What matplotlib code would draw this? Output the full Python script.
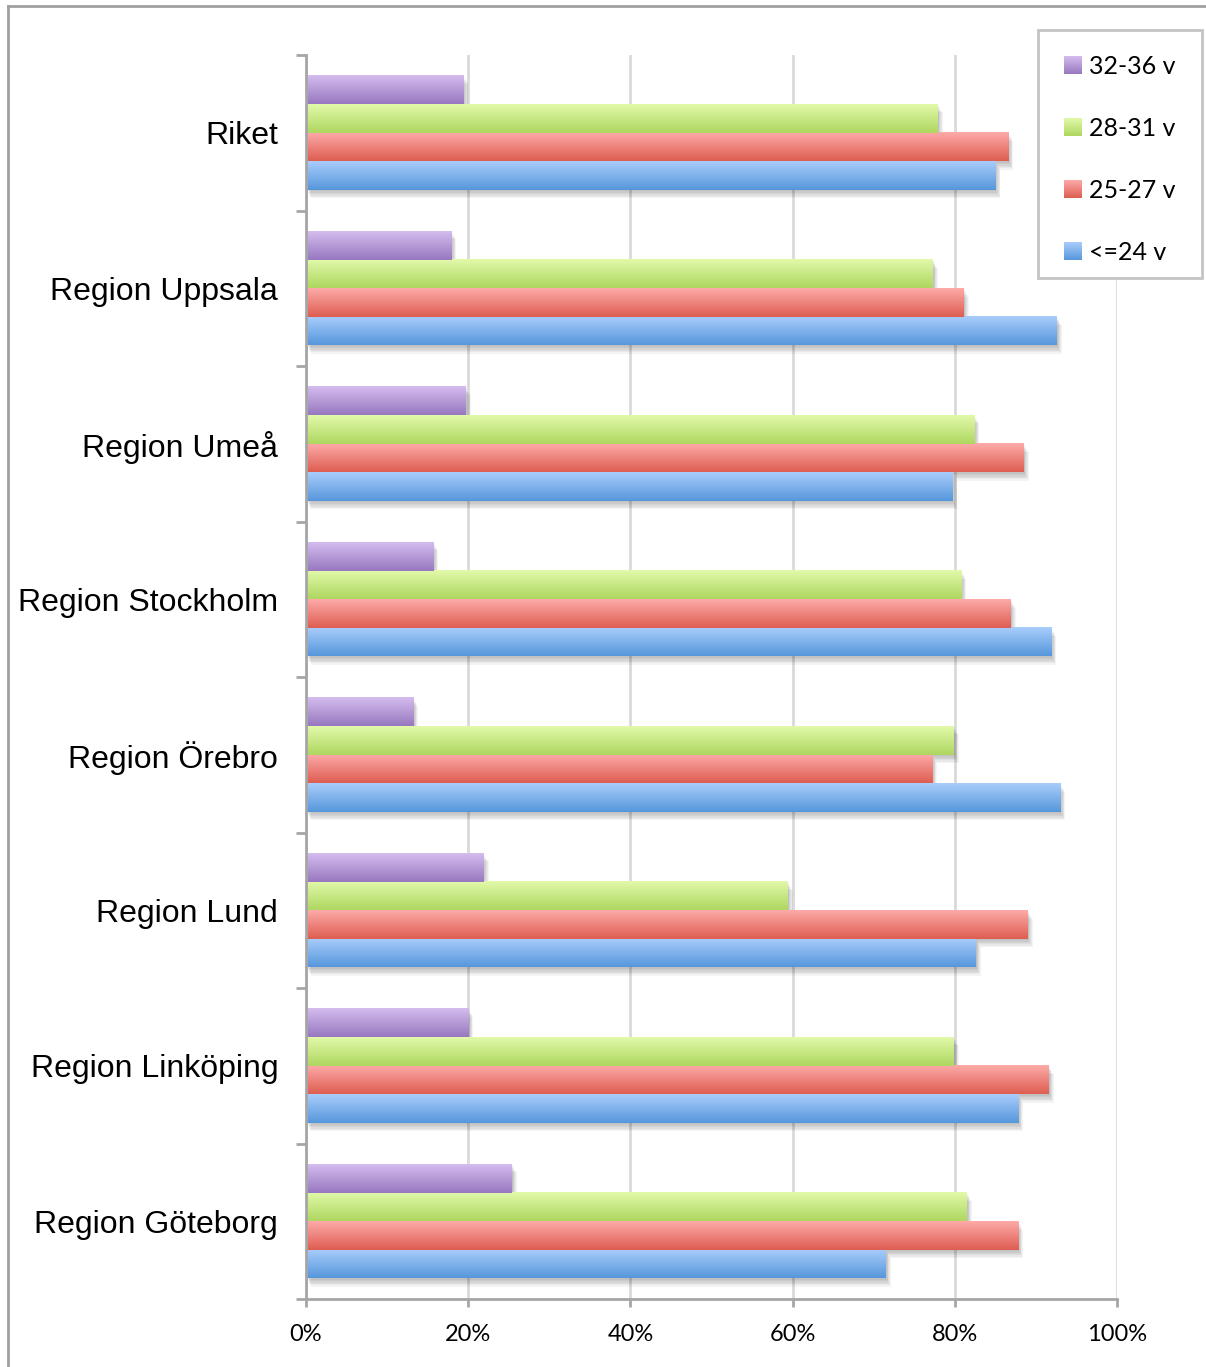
import numpy as np
import matplotlib
matplotlib.use("Agg")
import matplotlib.pyplot as plt
from matplotlib.colors import LinearSegmentedColormap
from matplotlib.patches import Patch, Rectangle
from matplotlib.legend_handler import HandlerBase
from matplotlib.image import BboxImage
from matplotlib.transforms import Bbox, TransformedBbox
import matplotlib.patheffects as pe
from matplotlib.lines import Line2D

# Data (share of cases, %)
regions = ["Riket", "Region Uppsala", "Region Umeå", "Region Stockholm",
           "Region Örebro", "Region Lund", "Region Linköping", "Region Göteborg"]
series_labels = ["<=24 v", "25-27 v", "28-31 v", "32-36 v"]
v_le24 = [85.0, 92.6, 79.7, 91.9, 93.0, 82.6, 87.8, 71.5]
v_25_27 = [86.6, 81.1, 88.5, 86.9, 77.2, 89.0, 91.6, 87.8]
v_28_31 = [77.9, 77.3, 82.4, 80.8, 79.9, 59.4, 79.9, 81.5]
v_32_36 = [19.4, 17.9, 19.7, 15.7, 13.2, 21.9, 20.0, 25.4]
x_ticks = [0, 20, 40, 60, 80, 100]
x_ticklabels = ["0%", "20%", "40%", "60%", "80%", "100%"]

series_values = [v_le24, v_25_27, v_28_31, v_32_36]
# light (top) -> dark (bottom) gradient stops for each series
gradients = [("#a9cdfb", "#5697dc"),
             ("#fdaaa8", "#de5e52"),
             ("#e2f9aa", "#aed760"),
             ("#d4bcee", "#9878c0")]
cmaps = [LinearSegmentedColormap.from_list(f"g{i}", [c0, c1])
         for i, (c0, c1) in enumerate(gradients)]

W, H = 1206, 1367
fig = plt.figure(figsize=(W / 100, H / 100), dpi=100)
ax = fig.add_axes([306 / W, 1 - 1299 / H, (1117 - 306) / W, (1299 - 55) / H])

n = len(regions)
y = np.arange(n)
bh = 0.184
# vertical order inside a group (top to bottom): 32-36, 28-31, 25-27, <=24
offsets = [1.5 * bh, 0.5 * bh, -0.5 * bh, -1.5 * bh]

shadow = [pe.SimplePatchShadow(offset=(d * 0.6, -d), shadow_rgbFace="black", alpha=0.045)
          for d in (1, 2, 3, 4, 5, 6)] + [pe.Normal()]

grad_arr = np.linspace(0, 1, 64).reshape(-1, 1)
for vals, off, cmap in zip(series_values, offsets, cmaps):
    bars = ax.barh(y + off, vals, height=bh, color="white", linewidth=0, zorder=2)
    for b in bars:
        b.set_path_effects(shadow)
        x0, y0 = b.get_x(), b.get_y()
        w, h = b.get_width(), b.get_height()
        ax.imshow(grad_arr, cmap=cmap, aspect="auto", interpolation="bilinear",
                  extent=(x0, x0 + w, y0 + h, y0), origin="upper", zorder=3)

ax.set_xlim(0, 100)
ax.set_ylim(n - 0.5, -0.5)
ax.set_aspect("auto")

# axes styling
ax.set_axisbelow(True)
for s in ("top", "right"):
    ax.spines[s].set_visible(False)
for s in ("left", "bottom"):
    ax.spines[s].set_color("#a6a6a6")
    ax.spines[s].set_linewidth(2)
    ax.spines[s].set_zorder(4)

ax.set_xticks(x_ticks)
ax.set_xticklabels(x_ticklabels, fontfamily="Lato", fontsize=17)
ax.tick_params(axis="x", length=6, width=2, color="#a6a6a6", pad=12)
ax.grid(axis="x", color="#d9d9d9", linewidth=2, zorder=0)

ax.set_yticks(y)
ax.set_yticklabels(regions, fontfamily="Liberation Sans", fontsize=23)
ax.tick_params(axis="y", which="major", length=0, pad=20)
ax.set_yticks(np.arange(-0.5, n), minor=True)
ax.tick_params(axis="y", which="minor", length=7, width=2, color="#a6a6a6")


class GradientSquare(HandlerBase):
    def create_artists(self, legend, orig_handle, xdescent, ydescent,
                       width, height, fontsize, trans):
        side = min(width, height)
        bb = Bbox.from_bounds(-xdescent, -ydescent + (height - side) / 2, side, side)
        img = BboxImage(TransformedBbox(bb, trans), cmap=orig_handle.cmap_ref,
                        interpolation="bilinear", origin="upper")
        img.set_data(grad_arr)
        return [img]


# legend box
fig.add_artist(Rectangle((1038 / W, 1 - 278 / H), 164 / W, 248 / H,
                         transform=fig.transFigure, facecolor="white",
                         edgecolor="#c4c4c4", linewidth=2, zorder=2))

handles = []
for label, cmap in zip(series_labels[::-1], cmaps[::-1]):
    p = Patch(label=label)
    p.cmap_ref = cmap
    handles.append(p)

leg = fig.legend(handles=handles, loc="upper left",
                 bbox_to_anchor=(1064 / W, 1 - 55 / H), bbox_transform=fig.transFigure,
                 borderaxespad=0, frameon=False,
                 prop={"family": "Lato", "size": 18},
                 handler_map={Patch: GradientSquare()},
                 handlelength=0.7, handleheight=0.7, handletextpad=0.3,
                 labelspacing=1.56, borderpad=0)
leg.set_zorder(5)

# outer chart frame (top and left edges)
fig.add_artist(Line2D([8 / W, 8 / W], [0, 1 - 6 / H], transform=fig.transFigure,
                      color="#a0a0a0", linewidth=2))
fig.add_artist(Line2D([8 / W, 1], [1 - 6 / H, 1 - 6 / H], transform=fig.transFigure,
                      color="#a0a0a0", linewidth=2))

fig.savefig("out.png", dpi=100)
